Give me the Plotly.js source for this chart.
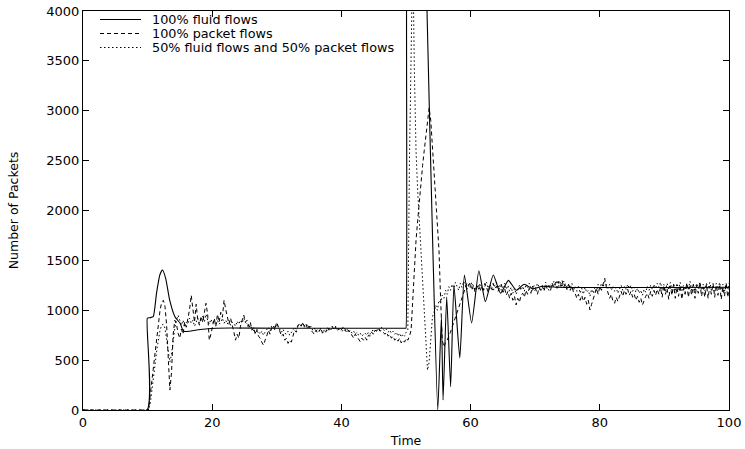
<!DOCTYPE html>
<html>
<head>
<meta charset="utf-8">
<script src="https://cdn.plot.ly/plotly-3.0.1.min.js"></script>
<style>
  html, body { margin: 0; padding: 0; background: #fff; }
  #chart { width: 745px; height: 449px; }
</style>
</head>
<body>
<div id="chart"></div>
<script>
// ---------- DATA ----------
const seriesNames = ["100% fluid flows", "100% packet flows", "50% fluid flows and 50% packet flows"];
const xTickVals = [0, 20, 40, 60, 80, 100];
const yTickVals = [0, 500, 1000, 1500, 2000, 2500, 3000, 3500, 4000];

// 100% fluid flows (smooth curve, irregular time samples)
const fluidTime = [0, 9.91, 9.96, 10.37, 10.87, 11.38, 11.89, 12.30, 12.80, 13.41, 14.23, 15.04, 15.55, 16.46, 17.58, 19.31, 22.78, 30.5, 40.6, 49.95, 50.0, 50.1, 50.8, 51.8, 52.8, 53.25, 54.16, 54.92, 55.48, 55.74, 56.30, 56.91, 57.42, 58.33, 59.04, 60.16, 61.28, 62.29, 63.51, 64.63, 65.85, 67.07, 68.29, 69.61, 71.1, 73.2, 100];
const fluidPackets = [0, 0, 920, 925, 935, 1170, 1353, 1404, 1320, 1103, 935, 869, 790, 790, 802, 815, 822, 820, 820, 820, 820, 4500, 6500, 7200, 5300, 4000, 1604, 0, 935, 100, 1136, 234, 1253, 521, 1353, 872, 1396, 1086, 1353, 1170, 1300, 1200, 1260, 1215, 1240, 1230, 1230];

// Sampled series: value 0 at t = 0 and before the first sample, then regular samples
const sampleStart = 10.15;
const sampleStep = 0.254;

// 100% packet flows
const packetPackets = [
  0,150,300,450, 600,750,880,1000, 1080,1100,1040,850, 520,200,380,760, 900,860,770,720, 810,760,880,830, 920,1010,1150,980, 880,1060,900,850, 940,880,1000,1070, 960,700,760,850,
  920,840,960,880, 980,930,1100,1010, 940,860,920,830, 780,700,760,720, 840,900,952,880, 900,840,880,800, 830,760,800,740, 720,680,650,700, 740,800,760,820, 850,800,880,840,
  780,740,760,700, 720,668,700,680, 740,800,780,840, 869,840,880,830, 860,810,840,800, 780,760,800,770, 790,820,770,800, 780,830,800,820, 840,800,830,790, 820,790,810,840,
  800,770,800,760, 750,720,760,730, 710,685,720,700, 730,700,750,740, 780,760,800,790, 820,790,800,780, 760,780,740,760, 720,740,700,720, 690,720,672,700, 680,720,700,740,
  800,1100,1450,1700, 1900,2100,2300,2450, 2600,2750,2900,3030, 2900,2650,2400,2150, 1900,1600,1100,700, 630,680,700,735, 780,830,880,920, 969,1020,1080,1130, 1180,1230,1270,1240, 1280,1200,1250,1180,
  1220,1260,1190,1240, 1200,1270,1230,1180, 1250,1210,1270,1220, 1240,1190,1230,1260, 1180,1220,1150,1190, 1120,1170,1100,1140, 1053,1120,1080,1150, 1170,1130,1200,1160, 1220,1170,1240,1190, 1210,1160,1230,1200,
  1240,1190,1260,1210, 1250,1200,1270,1230, 1280,1220,1290,1240, 1300,1230,1270,1210, 1260,1200,1240,1180, 1170,1120,1160,1100, 1150,1090,1130,1060, 1100,1003,1060,1120, 1180,1220,1160,1240, 1200,1260,1320,1230,
  1180,1120,1160,1090, 1070,1130,1090,1150, 1190,1140,1200,1160, 1210,1150,1190,1130, 1160,1100,1140,1080, 1120,1053,1100,1140, 1170,1120,1190,1140, 1200,1150,1210,1160, 1230,1130,1250,1160, 1220,1110,1240,1150,
  1260,1120,1230,1140, 1250,1110,1220,1160, 1270,1130,1240,1150, 1260,1120,1250,1170, 1280,1140,1230,1130, 1260,1120,1240,1160, 1270,1130,1250,1150, 1260,1110,1230,1140, 1270,1130,1250,1160, 1260,1120,1240,1150,
  1200
];

// 50% fluid flows and 50% packet flows
const mixedPackets = [
  0,60,180,320, 460,600,720,800, 850,860,820,700, 560,480,560,700, 820,900,950,900, 850,900,830,880, 860,920,870,900, 840,880,920,870, 900,940,880,960, 900,860,910,870,
  890,850,900,860, 880,920,870,900, 860,900,850,880, 870,840,890,860, 900,870,920,880, 860,820,850,810, 800,770,810,780, 760,790,750,780, 800,830,790,840, 850,820,860,830,
  800,780,810,770, 760,790,750,780, 800,830,810,850, 860,840,870,850, 830,860,820,840, 800,820,790,810, 790,810,780,800, 810,790,820,800, 830,810,840,820, 800,820,790,810,
  790,810,780,800, 770,790,760,780, 750,770,740,760, 770,750,780,760, 790,810,780,800, 820,800,830,810, 790,810,780,800, 770,790,760,780, 740,770,730,760, 740,780,800,2500,
  4300,4600,3400,2600, 2200,1900,1600,1250, 950,650,400,480, 700,935,980,1050, 1000,1100,1080,1150, 1120,1200,1160,1236, 1200,1260,1220,1280, 1240,1200,1270,1230, 1290,1250,1210,1260, 1230,1280,1240,1200,
  1250,1210,1270,1230, 1190,1240,1280,1220, 1260,1230,1190,1250, 1280,1220,1260,1200, 1240,1270,1210,1250, 1190,1230,1170,1220, 1160,1210,1250,1200, 1240,1190,1260,1220, 1270,1230,1200,1250, 1220,1270,1230,1190,
  1250,1210,1280,1240, 1200,1260,1230,1290, 1250,1300,1240,1280, 1230,1290,1250,1210, 1260,1220,1270,1200, 1240,1190,1250,1170, 1220,1160,1230,1180, 1200,1140,1210,1170, 1230,1190,1260,1220, 1270,1230,1290,1250,
  1220,1260,1200,1240, 1190,1230,1170,1210, 1250,1200,1240,1210, 1260,1220,1250,1190, 1230,1180,1220,1170, 1200,1150,1210,1180, 1240,1200,1250,1210, 1260,1220,1270,1230, 1280,1200,1260,1190, 1270,1210,1280,1200,
  1260,1190,1270,1210, 1280,1200,1250,1180, 1270,1210,1290,1200, 1260,1190,1270,1220, 1280,1200,1260,1190, 1270,1210,1280,1200, 1250,1190,1270,1210, 1280,1200,1260,1190, 1270,1210,1280,1200, 1260,1190,1270,1210,
  1230
];

// ---------- BUILD ----------
function sampledTimes(values) {
  return [0].concat(values.map((_, i) => sampleStart + i * sampleStep));
}
function sampledValues(values) {
  return [0].concat(values);
}

const W = 745, H = 449;
const M = { l: 83, r: 16, t: 11, b: 39 };
const plotW = W - M.l - M.r, plotH = H - M.t - M.b;
const px2paperX = px => (px - M.l) / plotW;
const px2paperY = py => (H - M.b - py) / plotH;

const fontFam = "'DejaVu Sans', Verdana, sans-serif";
const lineStyles = [
  { color: "#000", width: 1.1, dash: "solid", shape: "spline", smoothing: 0.5 },
  { color: "#000", width: 1, dash: "4px,3px" },
  { color: "#000", width: 1, dash: "1.5px,2.5px" }
];

const traces = [
  { x: fluidTime, y: fluidPackets, name: seriesNames[0] },
  { x: sampledTimes(packetPackets), y: sampledValues(packetPackets), name: seriesNames[1] },
  { x: sampledTimes(mixedPackets), y: sampledValues(mixedPackets), name: seriesNames[2] }
].map((t, i) => Object.assign(t, {
  type: "scatter", mode: "lines", line: lineStyles[i], showlegend: false, hoverinfo: "skip"
}));

// hand-built legend (gnuplot-style key in top-left corner)
const legendRowsPx = [19.5, 33.5, 47.5];
const shapes = [], annotations = [];
legendRowsPx.forEach((py, i) => {
  shapes.push({
    type: "line", xref: "paper", yref: "paper",
    x0: px2paperX(100), x1: px2paperX(141), y0: px2paperY(py), y1: px2paperY(py),
    line: { color: lineStyles[i].color, width: lineStyles[i].width, dash: lineStyles[i].dash }
  });
  annotations.push({
    xref: "paper", yref: "paper", x: px2paperX(150), y: px2paperY(py),
    xanchor: "left", yanchor: "middle", showarrow: false,
    text: seriesNames[i], font: { family: fontFam, size: 12.8, color: "#000" }
  });
});

const axisCommon = {
  showline: true, linecolor: "#000", linewidth: 1, mirror: "ticks",
  ticks: "inside", ticklen: 6, tickwidth: 1, tickcolor: "#000",
  showgrid: false, zeroline: false, tickmode: "array",
  ticklabeloverflow: "allow",
  tickfont: { family: fontFam, size: 13, color: "#000" }
};

const layout = {
  width: W, height: H,
  margin: M,
  paper_bgcolor: "#fff", plot_bgcolor: "#fff",
  showlegend: false,
  xaxis: Object.assign({}, axisCommon, {
    range: [0, 100], tickvals: xTickVals, ticktext: xTickVals.map(String),
    title: { text: "Time", font: { family: fontFam, size: 12.5, color: "#000" }, standoff: 7 }
  }),
  yaxis: Object.assign({}, axisCommon, {
    range: [0, 4000], tickvals: yTickVals, ticktext: yTickVals.map(String),
    title: { text: "Number of Packets", font: { family: fontFam, size: 12.5, color: "#000" }, standoff: 24 }
  }),
  shapes: shapes,
  annotations: annotations
};

Plotly.newPlot("chart", traces, layout, { staticPlot: true, displayModeBar: false });
</script>
</body>
</html>
